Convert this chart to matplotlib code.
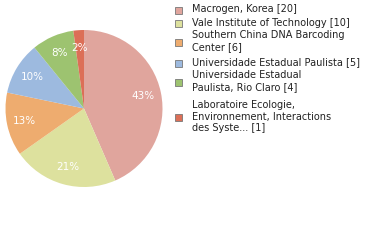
import matplotlib
matplotlib.use("Agg")
import matplotlib.pyplot as plt
from matplotlib.patches import Rectangle

# donnees
labels = ["Macrogen, Korea [20]",
          "Vale Institute of Technology [10]",
          "Southern China DNA Barcoding\nCenter [6]",
          "Universidade Estadual Paulista [5]",
          "Universidade Estadual\nPaulista, Rio Claro [4]",
          "Laboratoire Ecologie,\nEnvironnement, Interactions\ndes Syste... [1]"]
counts = [20, 10, 6, 5, 4, 1]
colors = ["#e0a59d", "#dde19e", "#eeac6f", "#9dbadf", "#9dc370", "#dc6f57"]

W, H = 380, 240
fig = plt.figure(figsize=(W / 100, H / 100), dpi=100)

# camembert : centre (84,108), rayon 78 px
cx, cy, r = 84, 108.5, 78.5
ax = fig.add_axes([(cx - r) / W, (H - cy - r) / H, 2 * r / W, 2 * r / H])
wedges, texts, autotexts = ax.pie(counts, colors=colors, startangle=90, counterclock=False,
                                  autopct=lambda p: "%d%%" % int(p), pctdistance=0.77,
                                  wedgeprops=dict(linewidth=0))
for t in autotexts:
    t.set_color("white")
    t.set_fontsize(7.5)
ax.set_aspect("equal")
ax.set_xlim(-1, 1)
ax.set_ylim(-1, 1)

# legende faite a la main
centres = [9.3, 22.7, 41.2, 62.3, 81.2, 116.7]
for lab, col, yc in zip(labels, colors, centres):
    fig.patches.append(Rectangle((175 / W, 1 - (yc + 4.5) / H), 7 / W, 7 / H,
                                 transform=fig.transFigure, facecolor=col,
                                 edgecolor="#777777", linewidth=0.6))
    fig.text(192 / W, 1 - yc / H, lab, fontsize=7, va="center", ha="left",
             color="#222222", linespacing=1.2)

fig.savefig("out.png", dpi=100)
